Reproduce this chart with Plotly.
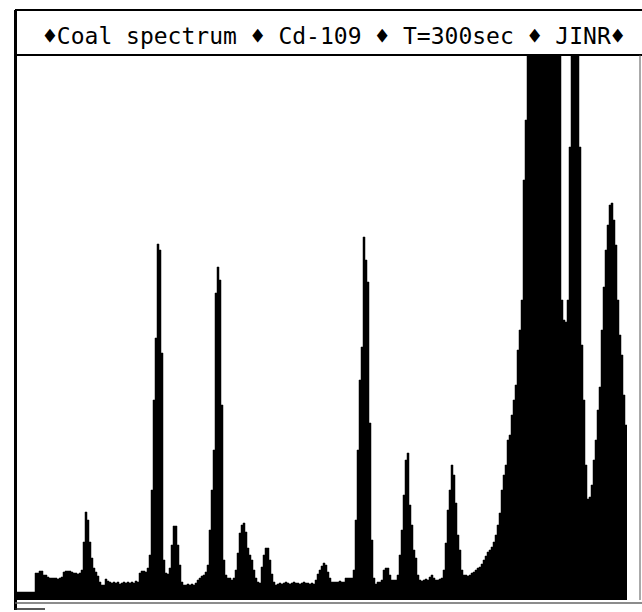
import plotly.graph_objects as go

# Spectrum counts per channel (arbitrary units; clipped peaks estimated)
seg = [
    [8, 8, 8, 8, 8, 8, 8, 8, 8, 8],
    [27, 27, 29, 29, 25, 25, 23],
    [22, 22, 22, 22, 21, 22, 23],
    [28, 29, 29, 29, 28, 27],
    [27, 26, 27, 30],
    [58, 88, 80, 58, 42, 32, 28, 24],
    [18, 15, 15, 21, 19],
    [18, 17, 18, 17, 18, 16, 17, 18, 17, 18, 17, 18, 17, 19, 18],
    [27, 29, 29, 28, 32, 45, 110],
    [200, 262, 356, 350, 247, 40, 27, 26],
    [32, 55, 74, 74, 55, 35, 18],
    [15, 15, 16, 15, 16, 15, 17],
    [20, 22, 24, 25, 28, 35, 70, 110],
    [150, 307, 333, 320, 195, 40, 25],
    [22, 22, 20, 22, 30],
    [47, 67, 75, 77, 68, 52, 45, 40, 30, 22, 18, 17],
    [33, 45, 52, 52, 40, 26, 18, 15, 16],
    [17, 16, 17, 18, 17, 16, 17, 18, 17, 17, 16, 17, 18, 17, 17, 16, 17],
    [16, 20, 26, 30, 34, 37, 35, 28, 22, 18],
    [18, 18, 18, 19, 18, 18, 22, 22, 22, 22],
    [30, 80, 150, 220, 253, 363, 340, 318, 177, 60, 22, 16],
    [18, 18, 20, 30, 32, 32, 25, 20, 20, 20],
    [25, 45, 70, 105, 140, 147, 95, 75, 50, 42, 25, 20],
    [19, 20, 21, 20, 23, 25, 22, 20, 20, 21, 22],
    [30, 57, 90, 110, 135, 125, 97, 65, 50, 30, 25],
    [25, 24, 25, 27, 28, 30, 32, 33, 36, 40, 44, 48, 50, 53, 58, 65, 75, 87,
     110, 125, 135, 160, 165, 185, 200, 215, 250, 270, 300, 420, 480],
    [700] * 16,
    [600, 300, 280, 278, 300, 453, 700, 700, 700, 600, 453, 255, 200, 135, 101],
    [103, 115, 140, 160, 190, 213, 270, 313, 350, 375, 395, 397, 380, 355, 300,
     265, 245, 205, 175],
]
counts = [v for s in seg for v in s]
channels = list(range(len(counts) + 1))
counts_step = counts + [counts[-1]]

title_text = "\u2666Coal spectrum \u2666 Cd-109 \u2666 T=300sec \u2666 JINR\u2666"

W, H = 642, 612
L, R, T, B = 15, 2, 55, 12
pw, ph = W - L - R, H - T - B


def px(x):
    return (x - L) / pw


def py(y):
    return (H - B - y) / ph


fig = go.Figure()
fig.add_trace(go.Scatter(
    x=channels, y=counts_step, mode="lines", line=dict(shape="hv", color="black", width=0.5),
    fill="tozeroy", fillcolor="black", hoverinfo="skip", showlegend=False))

shapes = [
    # title box
    dict(type="line", xref="paper", yref="paper", x0=px(15), x1=px(642), y0=py(10), y1=py(10),
         line=dict(color="black", width=2)),
    dict(type="line", xref="paper", yref="paper", x0=px(15), x1=px(642), y0=py(55), y1=py(55),
         line=dict(color="black", width=2)),
    # left border
    dict(type="line", xref="paper", yref="paper", x0=px(15.5), x1=px(15.5), y0=py(10), y1=py(610),
         line=dict(color="black", width=3)),
    # right border
    dict(type="line", xref="paper", yref="paper", x0=px(640), x1=px(640), y0=py(55), y1=py(600),
         line=dict(color="#555555", width=1)),
    # bottom lines
    dict(type="line", xref="paper", yref="paper", x0=px(15), x1=px(642), y0=py(603), y1=py(603),
         line=dict(color="#666666", width=1.5)),
    dict(type="line", xref="paper", yref="paper", x0=px(15), x1=px(45), y0=py(609), y1=py(609),
         line=dict(color="#222222", width=1.5)),
]

fig.update_layout(
    width=W, height=H,
    margin=dict(l=L, r=R, t=T, b=B),
    paper_bgcolor="white", plot_bgcolor="white",
    xaxis=dict(range=[0, pw / 2], showgrid=False, zeroline=False, showticklabels=False,
               showline=False, ticks=""),
    yaxis=dict(range=[0, ph], showgrid=False, zeroline=False, showticklabels=False,
               showline=False, ticks=""),
    shapes=shapes,
    annotations=[dict(text=title_text, xref="paper", yref="paper", x=px(333.5), y=py(36),
                      xanchor="center", yanchor="middle", showarrow=False,
                      font=dict(family="DejaVu Sans Mono", size=23, color="black"))],
)

fig.write_html("out.html",
               config={"displayModeBar": False},
               post_script="document.body.style.margin='0px';document.body.style.overflow='hidden';")
